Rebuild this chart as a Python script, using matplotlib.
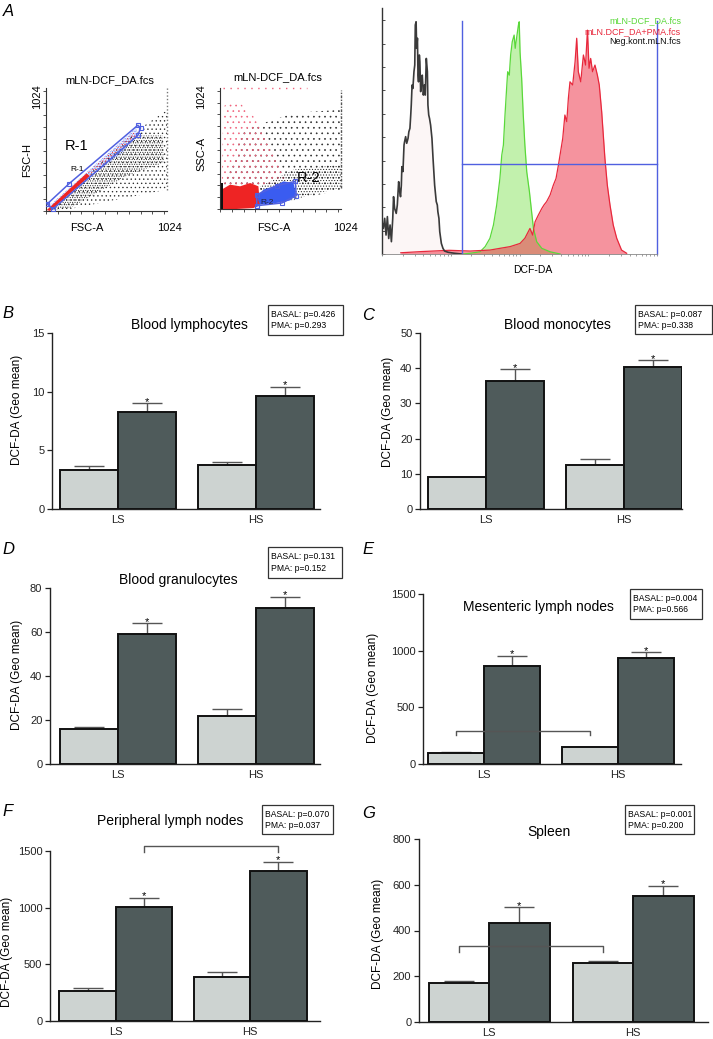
import numpy as np
import matplotlib
matplotlib.use('Agg')
from matplotlib import pyplot as plt
from matplotlib.patches import Polygon, Rectangle
from matplotlib.ticker import MultipleLocator, FixedLocator

plt.rcParams['font.family'] = ['Liberation Sans', 'DejaVu Sans']
plt.rcParams['hatch.linewidth'] = 0.45

## ---------------- data ----------------
groups = ['LS', 'HS']

## bar panels: mean and SEM, basal and PMA stimulated
lymph_basal, lymph_basal_sem = [3.3, 3.72], [0.39, 0.26]
lymph_pma, lymph_pma_sem = [8.3, 9.6], [0.7, 0.83]
mono_basal, mono_basal_sem = [9.0, 12.6], [0.2, 1.6]
mono_pma, mono_pma_sem = [36.3, 40.3], [3.4, 1.9]
gran_basal, gran_basal_sem = [15.9, 21.9], [1.1, 3.1]
gran_pma, gran_pma_sem = [58.9, 70.9], [5.0, 5.1]
mes_basal, mes_basal_sem = [94, 147], [9, 6]
mes_pma, mes_pma_sem = [866, 931], [89, 53]
per_basal, per_basal_sem = [268, 385], [26, 47]
per_pma, per_pma_sem = [1006, 1324], [82, 82]
spl_basal, spl_basal_sem = [171, 256], [9, 12]
spl_pma, spl_pma_sem = [434, 551], [67, 44]

titles = ['Blood lymphocytes', 'Blood monocytes', 'Blood granulocytes',
          'Mesenteric lymph nodes', 'Peripheral lymph nodes', 'Spleen']
basal_p = ['0.426', '0.087', '0.131', '0.004', '0.070', '0.001']
pma_p = ['0.293', '0.338', '0.152', '0.566', '0.037', '0.200']
y_max = [15, 50, 80, 1500, 1500, 800]
y_step = [5, 10, 20, 500, 500, 200]

## histogram (channel 0-1024, relative counts)
neg_ch = [0, 5, 10, 15, 20, 25, 30, 35, 40, 43, 47, 53, 57, 62, 66, 69, 72, 74, 78, 82,
          84, 88, 92, 97, 100, 104, 107, 109, 112, 115, 119, 122, 124, 127, 129, 132, 134,
          136, 139, 141, 144, 146, 150, 154, 158, 161, 165, 169, 171, 174, 177, 181, 186,
          190, 196, 202, 206, 208, 212, 215, 221, 227, 233, 246, 270, 295]
neg_count = [13.1, 10.4, 14.5, 7.7, 15.2, 6.3, 11.8, 5.0, 14.5, 23.3, 18.5, 16.5, 19.9,
             29.4, 25.3, 23.3, 28.0, 35.5, 33.5, 44.3, 45.6, 47.7, 45.0, 47.0, 49.7, 51.1,
             56.5, 60.6, 68.7, 67.3, 74.1, 76.8, 93.1, 94.4, 83.6, 87.7, 72.7, 70.0, 80.9,
             78.2, 66.0, 70.0, 72.7, 64.6, 68.7, 64.6, 79.5, 74.1, 60.6, 56.5, 55.1, 52.4,
             47.0, 38.9, 28.0, 21.3, 19.9, 17.2, 14.5, 9.1, 4.3, 2.3, 1.2, 0.7, 0.3, 0.0]
dcf_ch = [300, 328, 365, 384, 402, 415, 427, 439, 446, 452, 458, 464, 468, 474, 479, 485,
          492, 496, 501, 508, 511, 514, 520, 526, 532, 539, 549, 557, 564, 576, 595, 626, 663]
dcf_count = [0.0, 0.3, 0.9, 3.0, 6.4, 11.8, 19.9, 30.7, 40.2, 44.3, 56.5, 67.3, 74.1, 72.7,
             80.9, 86.3, 89.0, 83.6, 87.7, 93.1, 94.4, 82.2, 71.4, 56.5, 44.3, 33.4, 25.3,
             17.2, 10.4, 5.0, 2.3, 0.9, 0.0]
pma_ch = [70, 150, 250, 328, 402, 439, 477, 514, 532, 551, 561, 570, 582, 595, 603, 613,
          626, 638, 648, 657, 665, 673, 681, 688, 694, 700, 710, 719, 725, 731, 740, 750,
          758, 765, 771, 777, 784, 793, 802, 809, 818, 824, 830, 839, 849, 861, 874, 892, 911]
pma_count = [0.5, 1.0, 1.5, 1.2, 1.6, 2.3, 3.0, 4.3, 6.4, 10.4, 7.7, 13.1, 15.8, 18.5,
             19.9, 21.3, 24.0, 28.0, 30.7, 36.2, 41.6, 47.0, 56.5, 53.8, 63.3, 70.0, 68.7,
             78.2, 87.7, 74.1, 70.0, 80.9, 76.8, 91.0, 75.5, 79.5, 74.1, 76.8, 72.7, 68.7,
             57.8, 48.4, 38.9, 28.0, 19.9, 11.8, 6.4, 1.6, 0.3]
gate_left, gate_mid = 298, 36.6

## FSC-A / FSC-H dot plot: event cloud outlines (0-1024 scale)
s1_black_sparse = [(0, 0), (791, 685), (1024, 841), (1024, 178), (118, 0)]
s1_black_dense = [(20, 8), (763, 629), (987, 629), (1001, 403), (679, 291), (202, 23)]
s1_blue = [(20, 37), (763, 691), (777, 643), (651, 488), (230, 178), (62, 23)]
s1_red_dense = [(6, 8), (342, 313), (370, 291), (34, 0)]
s1_red_sparse = [(342, 313), (749, 657), (763, 623), (370, 291)]
gate_r1 = [(11, 59), (196, 228), (777, 714), (800, 691), (777, 629), (56, 14)]

## FSC-A / SSC-A dot plot
s2_black_sparse = [(28, 192), (198, 671), (622, 812), (1024, 841), (1024, 164), (651, 79), (311, 135)]
s2_red_sparse = [(14, 164), (28, 869), (141, 925), (311, 756), (481, 446), (566, 248), (325, 192)]
s2_black_dense = [(339, 192), (622, 333), (1024, 375), (1024, 178), (764, 121), (622, 73), (368, 93)]
s2_red_dense = [(14, 0), (14, 164), (85, 206), (170, 192), (255, 220), (325, 192), (339, 37), (283, 8), (141, 0)]
s2_blue = [(311, 107), (368, 164), (453, 192), (537, 234), (622, 220), (645, 121), (594, 73), (523, 56), (339, 37)]
s2_black_edge = [(0, 0), (0, 220), (25, 220), (25, 0)]
gate_r2 = [(311, 28), (523, 51), (645, 113), (637, 234), (481, 197), (311, 121)]

## ---------------- figure ----------------
W, H = 713, 1039
fig = plt.figure(figsize=(W / 100, H / 100), dpi=100)


def rect(l, t, r, b):
    return [l / W, 1 - b / H, (r - l) / W, (b - t) / H]


def ftext(x, y, s, **kw):
    fig.text(x / W, 1 - y / H, s, **kw)


BASAL_C = '#cdd3d1'
PMA_C = '#4f5b5b'
BLACK_DOT = '#2a2a2a'
RED_DOT = '#ee2424'
PINK_DOT = '#f0607a'
BLUE_DOT = '#3a5cf0'
GATE_C = '#5060e0'

## panel letters
for letter, (x, y) in zip('ABCDEFG', [(8, 11), (8, 314), (368, 316), (8, 549),
                                      (368, 549), (8, 811), (369, 814)]):
    ftext(x, y, letter, fontsize=12, fontstyle='italic', ha='center', va='center')


def cloud(ax, pts, color, hatch=None):
    if hatch is None:
        ax.add_patch(Polygon(pts, closed=True, facecolor=color, edgecolor='none', zorder=2))
    else:
        ax.add_patch(Polygon(pts, closed=True, facecolor='none', edgecolor=color,
                             lw=0, hatch=hatch, zorder=2))


def gate(ax, pts):
    xs = [p[0] for p in pts] + [pts[0][0]]
    ys = [p[1] for p in pts] + [pts[0][1]]
    ax.plot(xs, ys, color=GATE_C, lw=1.1, marker='s', ms=3.5, mfc='none', mec=GATE_C,
            mew=0.8, zorder=5)


def dot_axes(r):
    ax = fig.add_axes(rect(*r))
    ax.set_xlim(0, 1024)
    ax.set_ylim(0, 1024)
    for s in ['top', 'right']:
        ax.spines[s].set_visible(False)
    for s in ['left', 'bottom']:
        ax.spines[s].set_linewidth(0.8)
        ax.spines[s].set_color('#333')
    ax.xaxis.set_major_locator(MultipleLocator(100))
    ax.yaxis.set_major_locator(MultipleLocator(100))
    ax.tick_params(length=2, width=0.6, colors='#333', labelleft=False, labelbottom=False)
    return ax


## A: FSC-A vs FSC-H
ax1 = dot_axes((46, 88, 167, 211))
cloud(ax1, s1_black_sparse, BLACK_DOT, '....')
cloud(ax1, s1_black_dense, BLACK_DOT, '.......')
cloud(ax1, s1_blue, BLUE_DOT, '..........')
cloud(ax1, s1_red_sparse, RED_DOT, '......')
cloud(ax1, s1_red_dense, RED_DOT)
ax1.plot([1024, 1024], [178, 1024], color='#777', lw=1, ls=(0, (1, 1.5)), clip_on=False)
gate(ax1, gate_r1)
ax1.text(261, 542, 'R-1', fontsize=10.5, ha='center', va='center')
ax1.text(261, 347, 'R-1', fontsize=6, ha='center', va='center')
ftext(110, 80, 'mLN-DCF_DA.fcs', fontsize=8, ha='center', va='center')
ftext(27, 160, 'FSC-H', fontsize=8, rotation=90, ha='center', va='center')
ftext(37, 97, '1024', fontsize=8, rotation=90, ha='center', va='center')
ftext(87, 228, 'FSC-A', fontsize=8, ha='center', va='center')
ftext(169, 228, '1024', fontsize=8, ha='center', va='center')

## A: FSC-A vs SSC-A
ax2 = dot_axes((220, 88, 341, 209))
cloud(ax2, s2_black_sparse, BLACK_DOT, '...')
cloud(ax2, s2_red_sparse, PINK_DOT, '...')
cloud(ax2, s2_black_dense, BLACK_DOT, '......')
cloud(ax2, s2_red_dense, RED_DOT)
cloud(ax2, s2_blue, BLUE_DOT)
cloud(ax2, s2_black_edge, '#111')
ax2.plot([1024, 1024], [178, 1010], color='#555', lw=1, ls=(0, (2, 1, 1, 1)), clip_on=False)
ax2.plot([28, 735], [1024, 1024], color=PINK_DOT, lw=1, ls=(0, (1, 4)), clip_on=False)
gate(ax2, gate_r2)
ax2.text(747, 265, 'R-2', fontsize=10.5, ha='center', va='center', zorder=6)
ax2.text(399, 54, 'R-2', fontsize=6, ha='center', va='center', color='#223', zorder=6)
ftext(278, 77, 'mLN-DCF_DA.fcs', fontsize=8, ha='center', va='center')
ftext(201, 154, 'SSC-A', fontsize=8, rotation=90, ha='center', va='center')
ftext(201, 97, '1024', fontsize=8, rotation=90, ha='center', va='center')
ftext(274, 228, 'FSC-A', fontsize=8, ha='center', va='center')
ftext(345, 228, '1024', fontsize=8, ha='center', va='center')

## A: DCF-DA histogram overlay
axh = fig.add_axes(rect(382, 8, 657, 254))
axh.set_xlim(0, 1024)
axh.set_ylim(0, 100)
for s in ['top', 'right']:
    axh.spines[s].set_visible(False)
axh.spines['left'].set_color('#333')
axh.spines['left'].set_linewidth(1.0)
axh.spines['bottom'].set_color('#888')
axh.spines['bottom'].set_linewidth(0.6)
axh.fill_between(neg_ch, neg_count, color='#fcf6f6', lw=0)
axh.fill_between(dcf_ch, dcf_count, color='#c2f1ad', lw=0)
axh.fill_between(pma_ch, pma_count, color='#ee3a4e', alpha=0.55, lw=0)
axh.plot(dcf_ch, dcf_count, color='#5ad83a', lw=0.9)
axh.plot(pma_ch, pma_count, color='#e8283c', lw=0.9)
axh.plot(neg_ch, neg_count, color='#3a3a3a', lw=1.2)
axh.plot([gate_left, gate_left], [0, 94.7], color=GATE_C, lw=1.0)
axh.plot([1024, 1024], [0, 94.7], color=GATE_C, lw=1.0, clip_on=False)
axh.plot([gate_left, 1024], [gate_mid, gate_mid], color=GATE_C, lw=1.0, clip_on=False)
log_ticks = [(d + np.log10(k)) * 256 for d in range(4) for k in range(1, 10)] + [1024]
axh.xaxis.set_major_locator(FixedLocator(log_ticks))
axh.yaxis.set_major_locator(MultipleLocator(9.5))
axh.tick_params(axis='x', direction='out', length=1.5, width=0.5, colors='#777', labelbottom=False)
axh.tick_params(axis='y', direction='in', length=2, width=0.6, colors='#333', labelleft=False)
ftext(533, 270, 'DCF-DA', fontsize=7.5, ha='center', va='center')
for (txt, col, y) in [('mLN-DCF_DA.fcs', '#5ad83a', 21), ('mLN.DCF_DA+PMA.fcs', '#e8283c', 32),
                      ('Neg.kont.mLN.fcs', '#111111', 42)]:
    ftext(681, y, txt, fontsize=6.5, color=col, ha='right', va='center')

## ---------------- bar panels ----------------
basal_all = [lymph_basal, mono_basal, gran_basal, mes_basal, per_basal, spl_basal]
basal_sem_all = [lymph_basal_sem, mono_basal_sem, gran_basal_sem, mes_basal_sem, per_basal_sem, spl_basal_sem]
pma_all = [lymph_pma, mono_pma, gran_pma, mes_pma, per_pma, spl_pma]
pma_sem_all = [lymph_pma_sem, mono_pma_sem, gran_pma_sem, mes_pma_sem, per_pma_sem, spl_pma_sem]

axes_px = [(52, 333, 320, 509), (420, 333, 682, 509), (50, 588, 320, 764),
           (423, 594, 681, 764), (50, 851, 320, 1021), (419, 839, 708, 1022)]
xlims = [(-0.478, 1.464), (-0.478, 1.42), (-0.49, 1.464), (-0.455, 1.47), (-0.49, 1.52), (-0.486, 1.52)]
title_px = [(189, 325), (557, 325), (178, 580), (538, 607), (170, 821), (549, 832)]
pbox_px = [(268, 305, 343, 335), (635, 305, 712, 334), (268, 547, 342, 578),
           (630, 589, 702, 619), (262, 805, 333, 834), (625, 805, 694, 834)]
ylab_px = [(17, 410), (388, 412), (17, 675), (373, 688), (7, 952), (378, 934)]
## brackets: panel index, which bars, height, drop
brackets = {3: ('basal', 295, 42), 4: ('pma', 1544, 50), 5: ('basal', 332, 28)}

w = 0.42
x = np.arange(len(groups))
for i in range(6):
    ax = fig.add_axes(rect(*axes_px[i]))
    basal, bsem = np.array(basal_all[i]), np.array(basal_sem_all[i])
    pma, psem = np.array(pma_all[i]), np.array(pma_sem_all[i])
    ax.errorbar(x - w / 2, basal, yerr=[np.zeros(2), bsem], fmt='none', ecolor='#555',
                elinewidth=1.0, capsize=11, capthick=1.0, zorder=2)
    ax.errorbar(x + w / 2, pma, yerr=[np.zeros(2), psem], fmt='none', ecolor='#555',
                elinewidth=1.0, capsize=11, capthick=1.0, zorder=2)
    ax.bar(x - w / 2, basal, w, color=BASAL_C, edgecolor='#111', lw=1.4, zorder=3)
    ax.bar(x + w / 2, pma, w, color=PMA_C, edgecolor='#111', lw=1.4, zorder=3)
    for xi, top in zip(x + w / 2, pma + psem):
        ax.annotate('*', (xi, top), xytext=(0, -1), textcoords='offset points',
                    ha='center', va='baseline', fontsize=8)
    if i in brackets:
        which, yb, drop = brackets[i]
        xs = x - w / 2 if which == 'basal' else x + w / 2
        ax.plot([xs[0], xs[0], xs[1], xs[1]], [yb - drop, yb, yb, yb - drop],
                color='#555', lw=1.0, clip_on=False, zorder=4)
    ax.set_xlim(*xlims[i])
    ax.set_ylim(0, y_max[i])
    ax.yaxis.set_major_locator(MultipleLocator(y_step[i]))
    ax.set_xticks(x)
    ax.set_xticklabels(groups)
    for s in ['top', 'right']:
        ax.spines[s].set_visible(False)
    for s in ['left', 'bottom']:
        ax.spines[s].set_linewidth(1.0)
        ax.spines[s].set_color('#222')
    ax.tick_params(axis='y', length=3.5, width=0.9, labelsize=8, pad=2, colors='#222')
    ax.tick_params(axis='x', length=0, labelsize=8, pad=4, colors='#222')

    tx, ty = title_px[i]
    ftext(tx, ty, titles[i], fontsize=10, ha='center', va='center')
    lx, ly = ylab_px[i]
    ftext(lx, ly, 'DCF-DA (Geo mean)', fontsize=8.5, rotation=90, ha='center', va='center')
    l, t, r, b = pbox_px[i]
    fig.patches.append(Rectangle((l / W, 1 - b / H), (r - l) / W, (b - t) / H,
                                 transform=fig.transFigure, fill=False,
                                 edgecolor='#333', lw=0.9))
    ftext(l + 3, t + (b - t) * 0.32, 'BASAL: p=' + basal_p[i], fontsize=6.2, va='center')
    ftext(l + 3, t + (b - t) * 0.7, 'PMA: p=' + pma_p[i], fontsize=6.2, va='center')

fig.savefig('out.png', dpi=100)
